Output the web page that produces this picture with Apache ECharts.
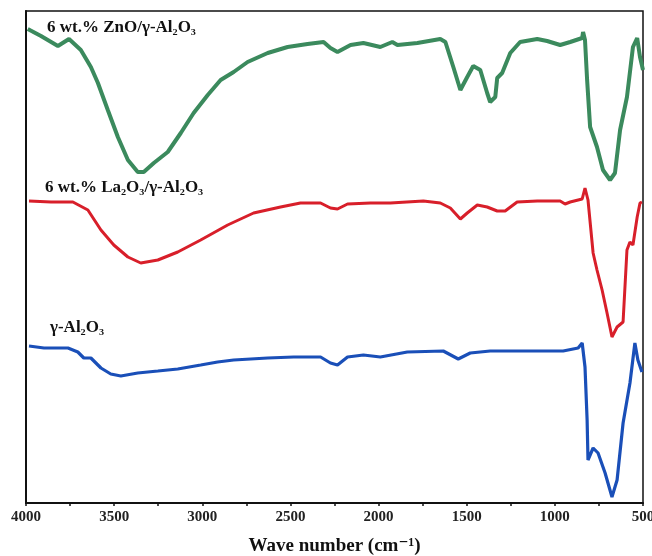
<!DOCTYPE html>
<html>
<head>
<meta charset="utf-8"/>
<script src="https://cdn.jsdelivr.net/npm/echarts@6.0.0/dist/echarts.min.js"></script>
<style>
  html, body { margin: 0; padding: 0; background: #fff; }
</style>
</head>
<body>
<div id="main" style="width: 652px;height: 556px;"></div>
<script>
// wave numbers (cm-1) and transmittance in arbitrary units
var znoWave = [3990, 3915, 3819, 3756, 3689, 3632, 3592, 3536, 3479, 3422, 3366, 3332, 3275, 3196, 3122, 3049, 2969, 2896, 2822, 2743, 2629, 2516, 2403, 2312, 2273, 2233, 2159, 2086, 1990, 1922, 1893, 1780, 1650, 1621, 1576, 1536, 1497, 1463, 1423, 1384, 1367, 1338, 1327, 1299, 1253, 1197, 1100, 1044, 970, 913, 845, 840, 829, 817, 800, 761, 727, 687, 659, 630, 591, 557, 533, 517, 500];
var znoT = [477, 470, 460, 467, 456, 439, 423, 396, 369, 346, 334, 334, 343, 354, 373, 393, 411, 426, 434, 444, 453, 459, 462, 464, 458, 454, 461, 463, 459, 464, 461, 463, 467, 464, 439, 416, 429, 440, 436, 413, 404, 409, 428, 433, 453, 464, 467, 465, 461, 464, 468, 474, 466, 426, 379, 359, 336, 326, 333, 376, 409, 459, 468, 449, 436];

var laWave = [3983, 3858, 3734, 3649, 3575, 3502, 3422, 3349, 3252, 3139, 3009, 2856, 2709, 2556, 2443, 2329, 2273, 2233, 2176, 2046, 1933, 1746, 1650, 1593, 1536, 1497, 1440, 1384, 1327, 1282, 1214, 1100, 970, 942, 913, 845, 829, 812, 783, 761, 732, 704, 676, 647, 613, 591, 574, 557, 533, 517, 506];
var laT = [305, 304, 304, 296, 276, 261, 249, 243, 246, 254, 266, 281, 293, 299, 303, 303, 298, 297, 302, 303, 303, 305, 303, 298, 287, 293, 301, 299, 295, 295, 304, 305, 305, 302, 304, 307, 318, 306, 253, 236, 216, 193, 169, 179, 184, 256, 264, 261, 289, 303, 304];

var alWave = [3983, 3898, 3802, 3762, 3706, 3672, 3632, 3575, 3519, 3462, 3366, 3252, 3139, 3009, 2913, 2822, 2629, 2482, 2329, 2273, 2233, 2176, 2086, 1990, 1837, 1633, 1548, 1480, 1367, 1140, 953, 868, 845, 829, 817, 812, 783, 755, 715, 676, 647, 613, 574, 546, 529, 506];
var alT = [160, 158, 158, 158, 154, 148, 148, 138, 132, 130, 133, 135, 137, 141, 144, 146, 148, 149, 149, 143, 141, 149, 151, 149, 154, 155, 147, 153, 155, 155, 155, 158, 163, 139, 86, 46, 58, 53, 33, 9, 26, 83, 123, 163, 146, 134];

var xTicks = [500, 4000, 500]; // min, max, step

function pairs(xs, ys) {
  var out = [];
  for (var i = 0; i < xs.length; i++) out.push([xs[i], ys[i]]);
  return out;
}

var serif = "'Liberation Serif', 'DejaVu Serif', serif";

var myChart = echarts.init(document.getElementById('main'));
myChart.setOption({
  animation: false,
  grid: {
    left: 26, right: 9, top: 11, bottom: 53,
    outerBoundsMode: 'none',
    containLabel: false,
    show: true, borderColor: '#111', borderWidth: 1.5
  },
  xAxis: {
    type: 'value',
    inverse: true,
    min: xTicks[0], max: xTicks[1], interval: xTicks[2],
    name: 'Wave number (cm⁻¹)',
    nameLocation: 'middle',
    nameGap: 34,
    nameTextStyle: { fontFamily: serif, fontWeight: 'bold', fontSize: 19, color: '#111' },
    axisLine: { lineStyle: { color: '#111', width: 2 } },
    axisTick: { inside: false, length: 3, lineStyle: { color: '#111', width: 1.5 } },
    minorTick: { show: true, splitNumber: 2, length: 3, lineStyle: { color: '#111', width: 1.5 } },
    axisLabel: {
      fontFamily: serif, fontWeight: 'bold', fontSize: 15, color: '#222', margin: 7,
      formatter: function (v) { return String(v); }
    },
    splitLine: { show: false }
  },
  yAxis: {
    type: 'value',
    min: 3, max: 495,
    axisLine: { show: true, lineStyle: { color: '#111', width: 2 } },
    axisTick: { show: false },
    axisLabel: { show: false },
    splitLine: { show: false }
  },
  series: [
    {
      name: 'ZnO', type: 'line', showSymbol: false,
      data: pairs(znoWave, znoT),
      lineStyle: { color: '#3b8a5d', width: 4 }
    },
    {
      name: 'La2O3', type: 'line', showSymbol: false,
      data: pairs(laWave, laT),
      lineStyle: { color: '#d81f2a', width: 3 }
    },
    {
      name: 'Al2O3', type: 'line', showSymbol: false,
      data: pairs(alWave, alT),
      lineStyle: { color: '#1a4fb8', width: 3.2 }
    }
  ],
  graphic: [
    { type: 'text', left: 47, top: 19,
      style: { text: '6 wt.% ZnO/γ-Al₂O₃', font: 'bold 17px ' + serif, fill: '#111' } },
    { type: 'text', left: 45, top: 179,
      style: { text: '6 wt.% La₂O₃/γ-Al₂O₃', font: 'bold 17px ' + serif, fill: '#111' } },
    { type: 'text', left: 50, top: 319,
      style: { text: 'γ-Al₂O₃', font: 'bold 17px ' + serif, fill: '#111' } }
  ]
});
</script>
</body>
</html>
